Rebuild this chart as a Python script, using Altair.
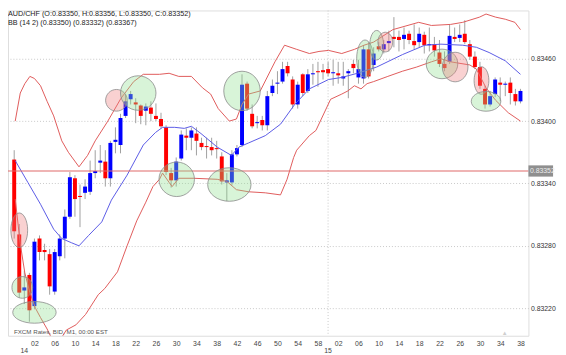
import altair as alt
import pandas as pd

# ---------------- data ----------------
# one-minute bars, minutes relative to 14:00 (13:58 ... 15:38)
bar_minutes = list(range(-2, 99))

opens = [0.83363, 0.83291, 0.83237, 0.83252, 0.83222, 0.83287, 0.83276, 0.83272, 0.83236, 0.83270,
         0.83287, 0.83308, 0.83345, 0.83328, 0.83331, 0.83332, 0.83350, 0.83360, 0.83361, 0.83345,
         0.83380, 0.83377, 0.83405, 0.83421, 0.83418, 0.83415, 0.83410, 0.83413, 0.83405, 0.83402,
         0.83394, 0.83350, 0.83343, 0.83364, 0.83386, 0.83384, 0.83388, 0.83379, 0.83376, 0.83375,
         0.83374, 0.83366, 0.83341, 0.83341, 0.83368, 0.83377, 0.83436, 0.83407, 0.83398, 0.83401,
         0.83396, 0.83427, 0.83436, 0.83438, 0.83453, 0.83440, 0.83416, 0.83445, 0.83429, 0.83445,
         0.83448, 0.83449, 0.83450, 0.83446, 0.83446, 0.83441, 0.83446, 0.83455, 0.83442, 0.83441,
         0.83469, 0.83454, 0.83472, 0.83469, 0.83475, 0.83481, 0.83481, 0.83479, 0.83484, 0.83477,
         0.83476, 0.83483, 0.83473, 0.83474, 0.83466, 0.83455, 0.83457, 0.83481, 0.83480, 0.83484,
         0.83474, 0.83462, 0.83452, 0.83431, 0.83416, 0.83426, 0.83437, 0.83435, 0.83437, 0.83426,
         0.83419]
highs = [0.83372, 0.83301, 0.83256, 0.83254, 0.83287, 0.83290, 0.83282, 0.83277, 0.83277, 0.83291,
         0.83315, 0.83351, 0.83348, 0.83339, 0.83344, 0.83362, 0.83372, 0.83377, 0.83372, 0.83381,
         0.83394, 0.83407, 0.83426, 0.83429, 0.83422, 0.83416, 0.83417, 0.83419, 0.83417, 0.83408,
         0.83396, 0.83355, 0.83365, 0.83391, 0.83393, 0.83394, 0.83394, 0.83384, 0.83384, 0.83384,
         0.83381, 0.83370, 0.83350, 0.83372, 0.83377, 0.83445, 0.83438, 0.83416, 0.83405, 0.83405,
         0.83429, 0.83440, 0.83448, 0.83457, 0.83457, 0.83443, 0.83438, 0.83446, 0.83450, 0.83455,
         0.83457, 0.83455, 0.83457, 0.83459, 0.83457, 0.83457, 0.83450, 0.83459, 0.83459, 0.83473,
         0.83476, 0.83471, 0.83476, 0.83478, 0.83487, 0.83500, 0.83487, 0.83490, 0.83487, 0.83493,
         0.83490, 0.83486, 0.83490, 0.83481, 0.83478, 0.83467, 0.83493, 0.83490, 0.83493, 0.83497,
         0.83478, 0.83467, 0.83457, 0.83434, 0.83429, 0.83442, 0.83442, 0.83438, 0.83442, 0.83431,
         0.83431]
lows = [0.83287, 0.83230, 0.83224, 0.83207, 0.83219, 0.83266, 0.83266, 0.83233, 0.83233, 0.83266,
        0.83268, 0.83306, 0.83308, 0.83298, 0.83325, 0.83329, 0.83345, 0.83350, 0.83337, 0.83337,
        0.83369, 0.83369, 0.83403, 0.83416, 0.83398, 0.83397, 0.83396, 0.83400, 0.83400, 0.83393,
        0.83348, 0.83336, 0.83337, 0.83362, 0.83372, 0.83372, 0.83367, 0.83372, 0.83364, 0.83367,
        0.83364, 0.83339, 0.83323, 0.83338, 0.83366, 0.83375, 0.83410, 0.83393, 0.83393, 0.83391,
        0.83391, 0.83424, 0.83426, 0.83436, 0.83443, 0.83412, 0.83412, 0.83424, 0.83427, 0.83435,
        0.83433, 0.83440, 0.83443, 0.83434, 0.83436, 0.83434, 0.83422, 0.83446, 0.83436, 0.83436,
        0.83441, 0.83448, 0.83467, 0.83465, 0.83467, 0.83471, 0.83467, 0.83469, 0.83474, 0.83469,
        0.83471, 0.83465, 0.83467, 0.83462, 0.83452, 0.83448, 0.83455, 0.83476, 0.83476, 0.83474,
        0.83459, 0.83450, 0.83431, 0.83412, 0.83414, 0.83423, 0.83419, 0.83424, 0.83416, 0.83415,
        0.83417]
closes = [0.83294, 0.83235, 0.83240, 0.83218, 0.83284, 0.83274, 0.83274, 0.83241, 0.83274, 0.83287,
          0.83308, 0.83346, 0.83325, 0.83327, 0.83337, 0.83350, 0.83352, 0.83362, 0.83345, 0.83379,
          0.83382, 0.83403, 0.83419, 0.83426, 0.83416, 0.83405, 0.83414, 0.83407, 0.83402, 0.83395,
          0.83351, 0.83343, 0.83361, 0.83387, 0.83384, 0.83391, 0.83381, 0.83375, 0.83375, 0.83372,
          0.83373, 0.83342, 0.83343, 0.83368, 0.83374, 0.83435, 0.83412, 0.83395, 0.83399, 0.83396,
          0.83424, 0.83434, 0.83437, 0.83450, 0.83446, 0.83416, 0.83435, 0.83427, 0.83445, 0.83446,
          0.83447, 0.83447, 0.83446, 0.83447, 0.83444, 0.83443, 0.83448, 0.83451, 0.83450, 0.83469,
          0.83443, 0.83465, 0.83469, 0.83474, 0.83477, 0.83479, 0.83478, 0.83483, 0.83478, 0.83473,
          0.83484, 0.83473, 0.83474, 0.83468, 0.83455, 0.83451, 0.83482, 0.83479, 0.83483, 0.83476,
          0.83462, 0.83452, 0.83434, 0.83416, 0.83424, 0.83440, 0.83435, 0.83436, 0.83427, 0.83419,
          0.83429]

# Bollinger bands (14, 2)
bb_mid_m = [-1.8, 0.7, 3.2, 5.8, 7.4, 9.3, 10.8, 12.7, 15.3, 17.2, 20.3, 23.5, 25.9, 27.3, 29.7,
            31.6, 33.0, 34.9, 38.1, 40.9, 42.4, 44.3, 47.6, 50.6, 53.4, 56.3, 60.1, 62.7, 65.8,
            69.6, 74.7, 79.1, 82.3, 86.6, 89.3, 91.8, 95.0, 98.0]
bb_mid = [0.83362, 0.83341, 0.83320, 0.83296, 0.83287, 0.83283, 0.83280, 0.83290, 0.83303, 0.83324,
          0.83348, 0.83377, 0.83389, 0.83394, 0.83394, 0.83393, 0.83395, 0.83388, 0.83375, 0.83367,
          0.83375, 0.83379, 0.83386, 0.83397, 0.83416, 0.83431, 0.83440, 0.83442, 0.83446, 0.83452,
          0.83464, 0.83473, 0.83474, 0.83473, 0.83471, 0.83466, 0.83458, 0.83445]
bb_up_m = [-1.8, -0.8, 0.1, 1.1, 2.0, 3.2, 4.5, 5.8, 7.4, 8.7, 10.8, 12.5, 14.0, 16.5, 19.1, 21.6,
           23.5, 26.7, 28.6, 30.5, 33.0, 35.2, 36.8, 38.3, 40.5, 41.9, 43.0, 44.3, 46.6, 49.5, 51.4,
           53.8, 56.3, 58.2, 60.1, 62.7, 65.2, 67.1, 69.0, 72.8, 77.9, 80.4, 84.2, 86.6, 89.9, 91.2,
           93.1, 95.0, 96.9, 98.0]
bb_up = [0.83400, 0.83427, 0.83436, 0.83443, 0.83441, 0.83434, 0.83419, 0.83405, 0.83381, 0.83370,
         0.83356, 0.83367, 0.83381, 0.83400, 0.83422, 0.83438, 0.83445, 0.83445, 0.83446, 0.83443,
         0.83443, 0.83432, 0.83426, 0.83412, 0.83400, 0.83402, 0.83416, 0.83426, 0.83429, 0.83457,
         0.83473, 0.83469, 0.83465, 0.83467, 0.83468, 0.83465, 0.83469, 0.83473, 0.83476, 0.83488,
         0.83495, 0.83492, 0.83493, 0.83495, 0.83500, 0.83503, 0.83500, 0.83498, 0.83495, 0.83488]
bb_lo_m = [-1.8, -0.8, 0.1, 1.1, 2.2, 3.2, 4.5, 5.5, 6.4, 7.4, 8.3, 10.2, 12.1, 14.6, 15.9, 18.4,
           20.3, 22.2, 24.0, 25.4, 26.7, 27.3, 28.6, 29.2, 30.5, 33.5, 38.1, 40.0, 41.9, 44.3, 47.6,
           50.6, 51.9, 53.2, 53.8, 56.3, 57.6, 60.5, 62.7, 63.9, 65.2, 66.5, 67.7, 69.0, 71.8, 74.7,
           77.5, 80.4, 82.3, 84.2, 88.0, 89.3, 91.2, 93.1, 95.6, 98.0]
bb_lo = [0.83325, 0.83282, 0.83254, 0.83235, 0.83220, 0.83211, 0.83200, 0.83190, 0.83187, 0.83192,
         0.83199, 0.83204, 0.83214, 0.83233, 0.83239, 0.83255, 0.83280, 0.83304, 0.83322, 0.83337,
         0.83344, 0.83350, 0.83341, 0.83337, 0.83345, 0.83345, 0.83344, 0.83342, 0.83334, 0.83332,
         0.83331, 0.83329, 0.83344, 0.83365, 0.83372, 0.83386, 0.83391, 0.83421, 0.83426, 0.83429,
         0.83434, 0.83431, 0.83436, 0.83438, 0.83443, 0.83448, 0.83452, 0.83457, 0.83460, 0.83457,
         0.83454, 0.83450, 0.83432, 0.83420, 0.83408, 0.83400]

# pattern marker ellipses: kind, centre minute, centre price
mark_kind = ["r", "g", "g", "r", "g", "g", "g", "g", "g", "g", "r", "g", "r", "r", "g"]
mark_m = [-1.0, -0.4, 2.0, 18.2, 22.5, 30.1, 40.5, 43.0, 67.3, 69.6, 71.3, 82.5, 85.1, 90.3, 91.2]
mark_p = [0.83295, 0.83240, 0.83216, 0.83420, 0.83427, 0.83344, 0.83339, 0.83429, 0.83460,
          0.83473, 0.83476, 0.83455, 0.83452, 0.83439, 0.83419]

last_price = 0.83352
y_ticks = [0.83220, 0.83280, 0.83340, 0.83400, 0.83460]
x_ticks = list(range(2, 99, 4))
header1 = "AUD/CHF (O:0.83350, H:0.83356, L:0.83350, C:0.83352)"
header2 = "BB (14 2) (0.83350) (0.83332) (0.83367)"
footer = "FXCM Rates, BID, M1, 00:00 EST"

# ---------------- styling / geometry ----------------
W, H = 528, 330
FONT = "Liberation Sans"
# ellipse pixel radii (style, not data)
mark_rx = [8.5, 10.5, 22, 11, 18, 18, 22, 18.5, 8.5, 7, 7.5, 16, 13, 7.5, 15]
mark_ry = [17.5, 11, 11, 11, 17.5, 17.5, 17, 20, 19, 15, 10, 15, 15, 14, 10]

candles = pd.DataFrame({"m": bar_minutes, "open": opens, "high": highs,
                        "low": lows, "close": closes})
candles["dir"] = ["up" if c > o else "down" for o, c in zip(opens, closes)]

bands_up = pd.DataFrame({"m": bb_up_m, "v": bb_up})
bands_mid = pd.DataFrame({"m": bb_mid_m, "v": bb_mid})
bands_lo = pd.DataFrame({"m": bb_lo_m, "v": bb_lo})

def ellipse_path(rx, ry):
    r = max(rx, ry)
    a, b = rx / r, ry / r
    return f"M {-a:.3f} 0 A {a:.3f} {b:.3f} 0 1 0 {a:.3f} 0 A {a:.3f} {b:.3f} 0 1 0 {-a:.3f} 0 Z"

marks = pd.DataFrame({"kind": mark_kind, "m": mark_m, "p": mark_p})
marks["shp"] = [ellipse_path(a, b) for a, b in zip(mark_rx, mark_ry)]
marks["sz"] = [(2 * max(a, b)) ** 2 for a, b in zip(mark_rx, mark_ry)]

xs = alt.Scale(domain=[-2.25, 98.6], nice=False, zero=False)
ys = alt.Scale(domain=[0.831935, 0.835064], nice=False, zero=False)

x_axis = alt.Axis(values=x_ticks, labelExpr="(datum.value % 60 < 10 ? '0' : '') + (datum.value % 60)",
                  grid=False, ticks=False, domain=False, labelFontSize=7, labelColor="#444",
                  labelFont=FONT, labelPadding=4, title=None, labelFlush=False)
y_axis = alt.Axis(orient="right", values=y_ticks, format=".5f", ticks=False, domain=False,
                  labelFontSize=7, labelColor="#333", labelFont=FONT, labelPadding=2,
                  grid=True, gridColor="#c8c8c8", gridDash=[1, 2], gridWidth=1, title=None)

def X(field="m"):
    return alt.X(f"{field}:Q", scale=xs, axis=x_axis)

def Y(field):
    return alt.Y(f"{field}:Q", scale=ys, axis=y_axis)

base = alt.Chart(candles)

wicks = base.mark_rule(color="#a0a0a0", strokeWidth=1).encode(x=X(), y=Y("low"), y2="high:Q")
bodies = base.mark_bar(size=4).encode(
    x=X(), y=Y("open"), y2="close:Q",
    color=alt.Color("dir:N", scale=alt.Scale(domain=["up", "down"], range=["#0000ff", "#ff0000"]),
                    legend=None),
)

def band(df, color):
    return alt.Chart(df).mark_line(color=color, strokeWidth=1, clip=True).encode(x=X(), y=Y("v"))

upper = band(bands_up, "#e05a5a")
lower = band(bands_lo, "#e05a5a")
middle = band(bands_mid, "#5a5ae6")

hour_rule = alt.Chart(pd.DataFrame({"m": [60]})).mark_rule(
    color="#c8c8c8", strokeDash=[1, 2], strokeWidth=1).encode(x=X())

price_line = alt.Chart(pd.DataFrame({"p": [last_price]})).mark_rule(
    color="#e06a6a", strokeWidth=1.2).encode(y=Y("p"))

ellipses = alt.Chart(marks).mark_point(filled=True, stroke="#8a8a8a", strokeWidth=1,
                                       fillOpacity=0.35, strokeOpacity=0.8, opacity=1,
                                       clip=True).encode(
    x=X(), y=Y("p"),
    shape=alt.Shape("shp:N", scale=None, legend=None),
    size=alt.Size("sz:Q", scale=None, legend=None),
    fill=alt.Fill("kind:N", scale=alt.Scale(domain=["g", "r"], range=["#8fe08f", "#ee7a7a"]),
                  legend=None),
)

price_box = alt.Chart(pd.DataFrame({"p": [last_price]})).transform_calculate(
    pa="datum.p + 0.000054", pb="datum.p - 0.000054").mark_rect(color="#8f8f8f").encode(
    x=alt.value(W), x2=alt.value(W + 25), y=Y("pa"), y2="pb:Q")
price_text = alt.Chart(pd.DataFrame({"p": [last_price]})).mark_text(
    align="left", baseline="middle", fontSize=7, font=FONT, color="#ececec").encode(
    x=alt.value(W + 1.5), y=Y("p"), text=alt.Text("p:Q", format=".5f"))

def label(txt, x, y, size, color, align="left"):
    return alt.Chart(pd.DataFrame({"t": [txt]})).mark_text(
        align=align, baseline="middle", fontSize=size, font=FONT, color=color).encode(
        x=alt.value(x), y=alt.value(y), text="t:N")

head1 = label(header1, 0, 4, 7.3, "#222")
head2 = label(header2, 0, 13, 7.3, "#222")
foot = label(footer, 6, 326, 6.3, "#555")
tri = label("\u25b2", 504, 327, 6, "#cfcfcf", "center")

hours = alt.Chart(pd.DataFrame({"m": [0, 60], "t": ["14", "15"]})).mark_text(
    baseline="middle", fontSize=7, font=FONT, color="#444").encode(
    x=X(), y=alt.value(H + 15), text="t:N")

chart = alt.layer(
    hour_rule, wicks, bodies, upper, middle, lower, price_line, ellipses,
    price_box, price_text, head1, head2, foot, tri, hours,
).properties(
    width=W, height=H,
    autosize=alt.AutoSizeParams(type="none"),
    padding={"left": 0, "top": 0, "right": 30, "bottom": 17},
).configure_view(stroke="#b4b4b4", strokeWidth=1).configure(background="white")

chart.save("out.html", embed_options={"renderer": "svg", "actions": False})
